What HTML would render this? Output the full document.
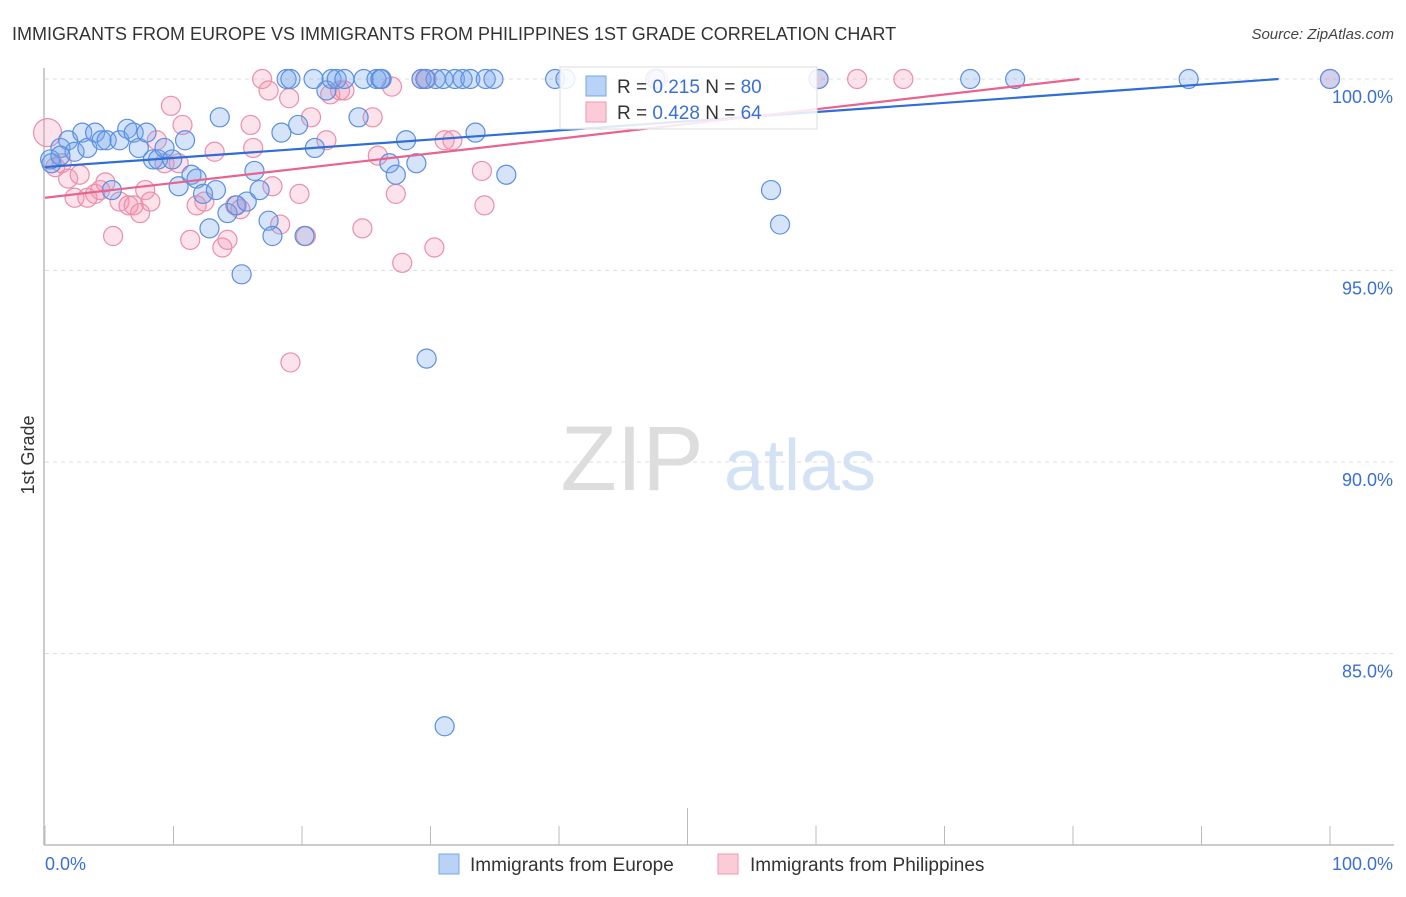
<!DOCTYPE html>
<html><head><meta charset="utf-8"><style>
body{margin:0;background:#fff;font-family:"Liberation Sans",sans-serif;}
svg text{font-family:"Liberation Sans",sans-serif;}
</style></head><body>
<svg width="1406" height="892" viewBox="0 0 1406 892" xmlns="http://www.w3.org/2000/svg">
<text x="12" y="40" font-size="18" fill="#333">IMMIGRANTS FROM EUROPE VS IMMIGRANTS FROM PHILIPPINES 1ST GRADE CORRELATION CHART</text>
<text x="1394" y="39" font-size="15" fill="#444" text-anchor="end" font-style="italic">Source: ZipAtlas.com</text>
<g>
<text x="632" y="490" font-size="92" fill="#ddd" text-anchor="middle" font-family="Liberation Serif">ZIP</text>
<text x="800" y="490" font-size="72" fill="#d4e2f5" text-anchor="middle">atlas</text>
</g>
<g id="grid"></g>
<g id="axes"></g>
<g id="marks"></g>
<g>
<rect x="560" y="67" width="257" height="62" fill="#fff" fill-opacity="0.85" stroke="#ddd"/>
<rect x="586" y="76" width="20" height="20" fill="#b8d3f5" stroke="#7aa6e6"/>
<text x="617" y="93" font-size="19" fill="#333">R = <tspan fill="#3a6fd4">0.215</tspan>   N = <tspan fill="#3a6fd4">80</tspan></text>
<rect x="586" y="102" width="20" height="20" fill="#fbcbd8" stroke="#ec9ab2"/>
<text x="617" y="119" font-size="19" fill="#333">R = <tspan fill="#3a6fd4">0.428</tspan>   N = <tspan fill="#3a6fd4">64</tspan></text>
</g>
<g>
<rect x="439" y="854" width="20" height="20" fill="#b8d3f5" stroke="#7aa6e6"/>
<text x="470" y="871" font-size="19" fill="#333">Immigrants from Europe</text>
<rect x="718" y="854" width="20" height="20" fill="#fbcbd8" stroke="#ec9ab2"/>
<text x="750" y="871" font-size="19" fill="#333">Immigrants from Philippines</text>
</g>
<text transform="translate(34,455) rotate(-90)" font-size="18" fill="#333" text-anchor="middle">1st Grade</text>
</svg>
<script>
const europeX=[0.5,1.2,1.8,2.3,2.9,3.3,3.9,4.4,4.8,5.2,5.8,6.4,6.9,7.3,7.9,8.4,8.8,9.3,9.9,10.4,10.9,11.4,11.8,12.3,12.8,13.3,13.6,14.2,14.9,15.3,15.7,16.3,16.7,17.4,17.7,18.4,18.8,19.1,19.7,20.2,20.9,21.0,21.9,22.3,22.7,23.3,24.4,24.8,25.8,26.2,26.8,27.3,28.1,28.9,29.3,29.7,30.4,31.0,31.1,31.9,32.5,33.1,33.5,34.3,34.9,35.9,39.7,40.5,47.5,56.5,57.2,60.2,72.0,75.5,89.0,100.0,0.4,1.2,29.6,26.1];
const europeY=[97.8,98.2,98.4,98.1,98.6,98.2,98.6,98.4,98.4,97.1,98.4,98.7,98.6,98.2,98.6,97.9,97.9,98.2,97.9,97.2,98.4,97.5,97.4,97.0,96.1,97.1,99.0,96.5,96.7,94.9,96.8,97.6,97.1,96.3,95.9,98.6,100,100,98.8,95.9,100,98.2,99.7,100,100,100,99.0,100,100,100,97.8,97.5,98.4,97.8,100,92.7,100,100,83.1,100,100,100,98.6,100,100,97.5,100,100,100,97.1,96.2,100,100,100,100,100,97.9,98.0,100,100];
const philX=[0.2,0.8,1.3,1.8,2.3,2.7,3.3,3.9,4.3,4.7,5.3,5.8,6.5,6.9,7.4,7.8,8.2,8.7,9.3,9.8,10.4,10.7,11.3,11.8,12.4,13.2,13.8,14.2,14.8,15.2,16.0,16.2,16.9,17.4,17.7,18.3,19.0,19.1,19.8,20.3,20.7,21.9,22.2,22.96,23.3,24.7,25.5,25.9,27.0,27.3,27.8,29.3,29.7,30.3,31.1,31.7,34.0,34.2,47.7,60.2,63.2,66.8,100.0];
const philY=[98.6,97.7,97.8,97.4,96.9,97.5,96.9,97.0,97.1,97.3,95.9,96.8,96.7,96.7,96.5,97.1,96.8,98.4,97.8,99.3,97.8,98.8,95.8,96.7,96.8,98.1,95.6,95.8,96.7,96.6,98.8,98.2,100,99.7,97.2,96.2,99.5,92.6,97.0,95.9,99.0,98.4,99.6,99.7,99.7,96.1,99.0,98.0,99.8,97.0,95.2,100,100,95.6,98.4,98.4,97.6,96.7,100,100,100,100,100];
const yTicks=[100,95,90,85];
const yTickLabels=["100.0%","95.0%","90.0%","85.0%"];
const xTickVals=[0,10,20,30,40,50,60,70,80,90,100];
const europeLine=[[0,97.7],[96,100]];
const philLine=[[0,96.9],[80.5,100]];

const NS="http://www.w3.org/2000/svg";
const X0=45,X1=1330,YT=79,PPU=38.3;
function sx(v){return X0+(X1-X0)*v/100;}
function sy(v){return YT+(100-v)*PPU;}
function mk(tag,attrs,parent){const e=document.createElementNS(NS,tag);for(const k in attrs)e.setAttribute(k,attrs[k]);parent.appendChild(e);return e;}
const grid=document.getElementById('grid'),axes=document.getElementById('axes'),marks=document.getElementById('marks');
yTicks.forEach((t,i)=>{
  const l=mk('line',{x1:45,x2:1394,y1:sy(t),y2:sy(t),stroke:'#ddd','stroke-dasharray':'4,4'},grid);
  
  
  const tx=mk('text',{x:1393,y:sy(t)+24,'font-size':18,fill:'#3a6fd4','text-anchor':'end'},axes);
  tx.textContent=yTickLabels[i];
  
  
});
const ya=mk('line',{x1:44,x2:44,y1:68,y2:845,stroke:'#bbb','stroke-width':1.5},axes);


const xa=mk('line',{x1:44,x2:1394,y1:845,y2:845,stroke:'#bbb','stroke-width':1.5},axes);


xTickVals.forEach(v=>{
  const t=mk('line',{x1:sx(v),x2:sx(v),y1:v===50?808:826,y2:845,stroke:'#bbb'},axes);
  
  
});
const xl0=mk('text',{x:45,y:870,'font-size':18,fill:'#3a6fd4'},axes);xl0.textContent='0.0%';


const xl1=mk('text',{x:1393,y:870,'font-size':18,fill:'#3a6fd4','text-anchor':'end'},axes);xl1.textContent='100.0%';


function dots(xs,ys,fill,stroke,name){
  xs.forEach((x,i)=>{
    const c=mk('circle',{cx:sx(x),cy:sy(ys[i]),r:(i===0&&name==='philippines-point')?14:9.5,fill:fill,stroke:stroke,'stroke-width':1.2},marks);
    
    
  });
}
dots(philX,philY,'rgba(244,150,178,0.28)','#ea8fab','philippines-point');
dots(europeX,europeY,'rgba(120,165,235,0.3)','#5b8fe0','europe-point');
function line(p,col,name){
  const l=mk('line',{x1:sx(p[0][0]),y1:sy(p[0][1]),x2:sx(p[1][0]),y2:sy(p[1][1]),stroke:col,'stroke-width':2.2},marks);
  
  
}
line(europeLine,'#2f6ed6','europe-trend-line');
line(philLine,'#e8638e','philippines-trend-line');
</script>
</body></html>
